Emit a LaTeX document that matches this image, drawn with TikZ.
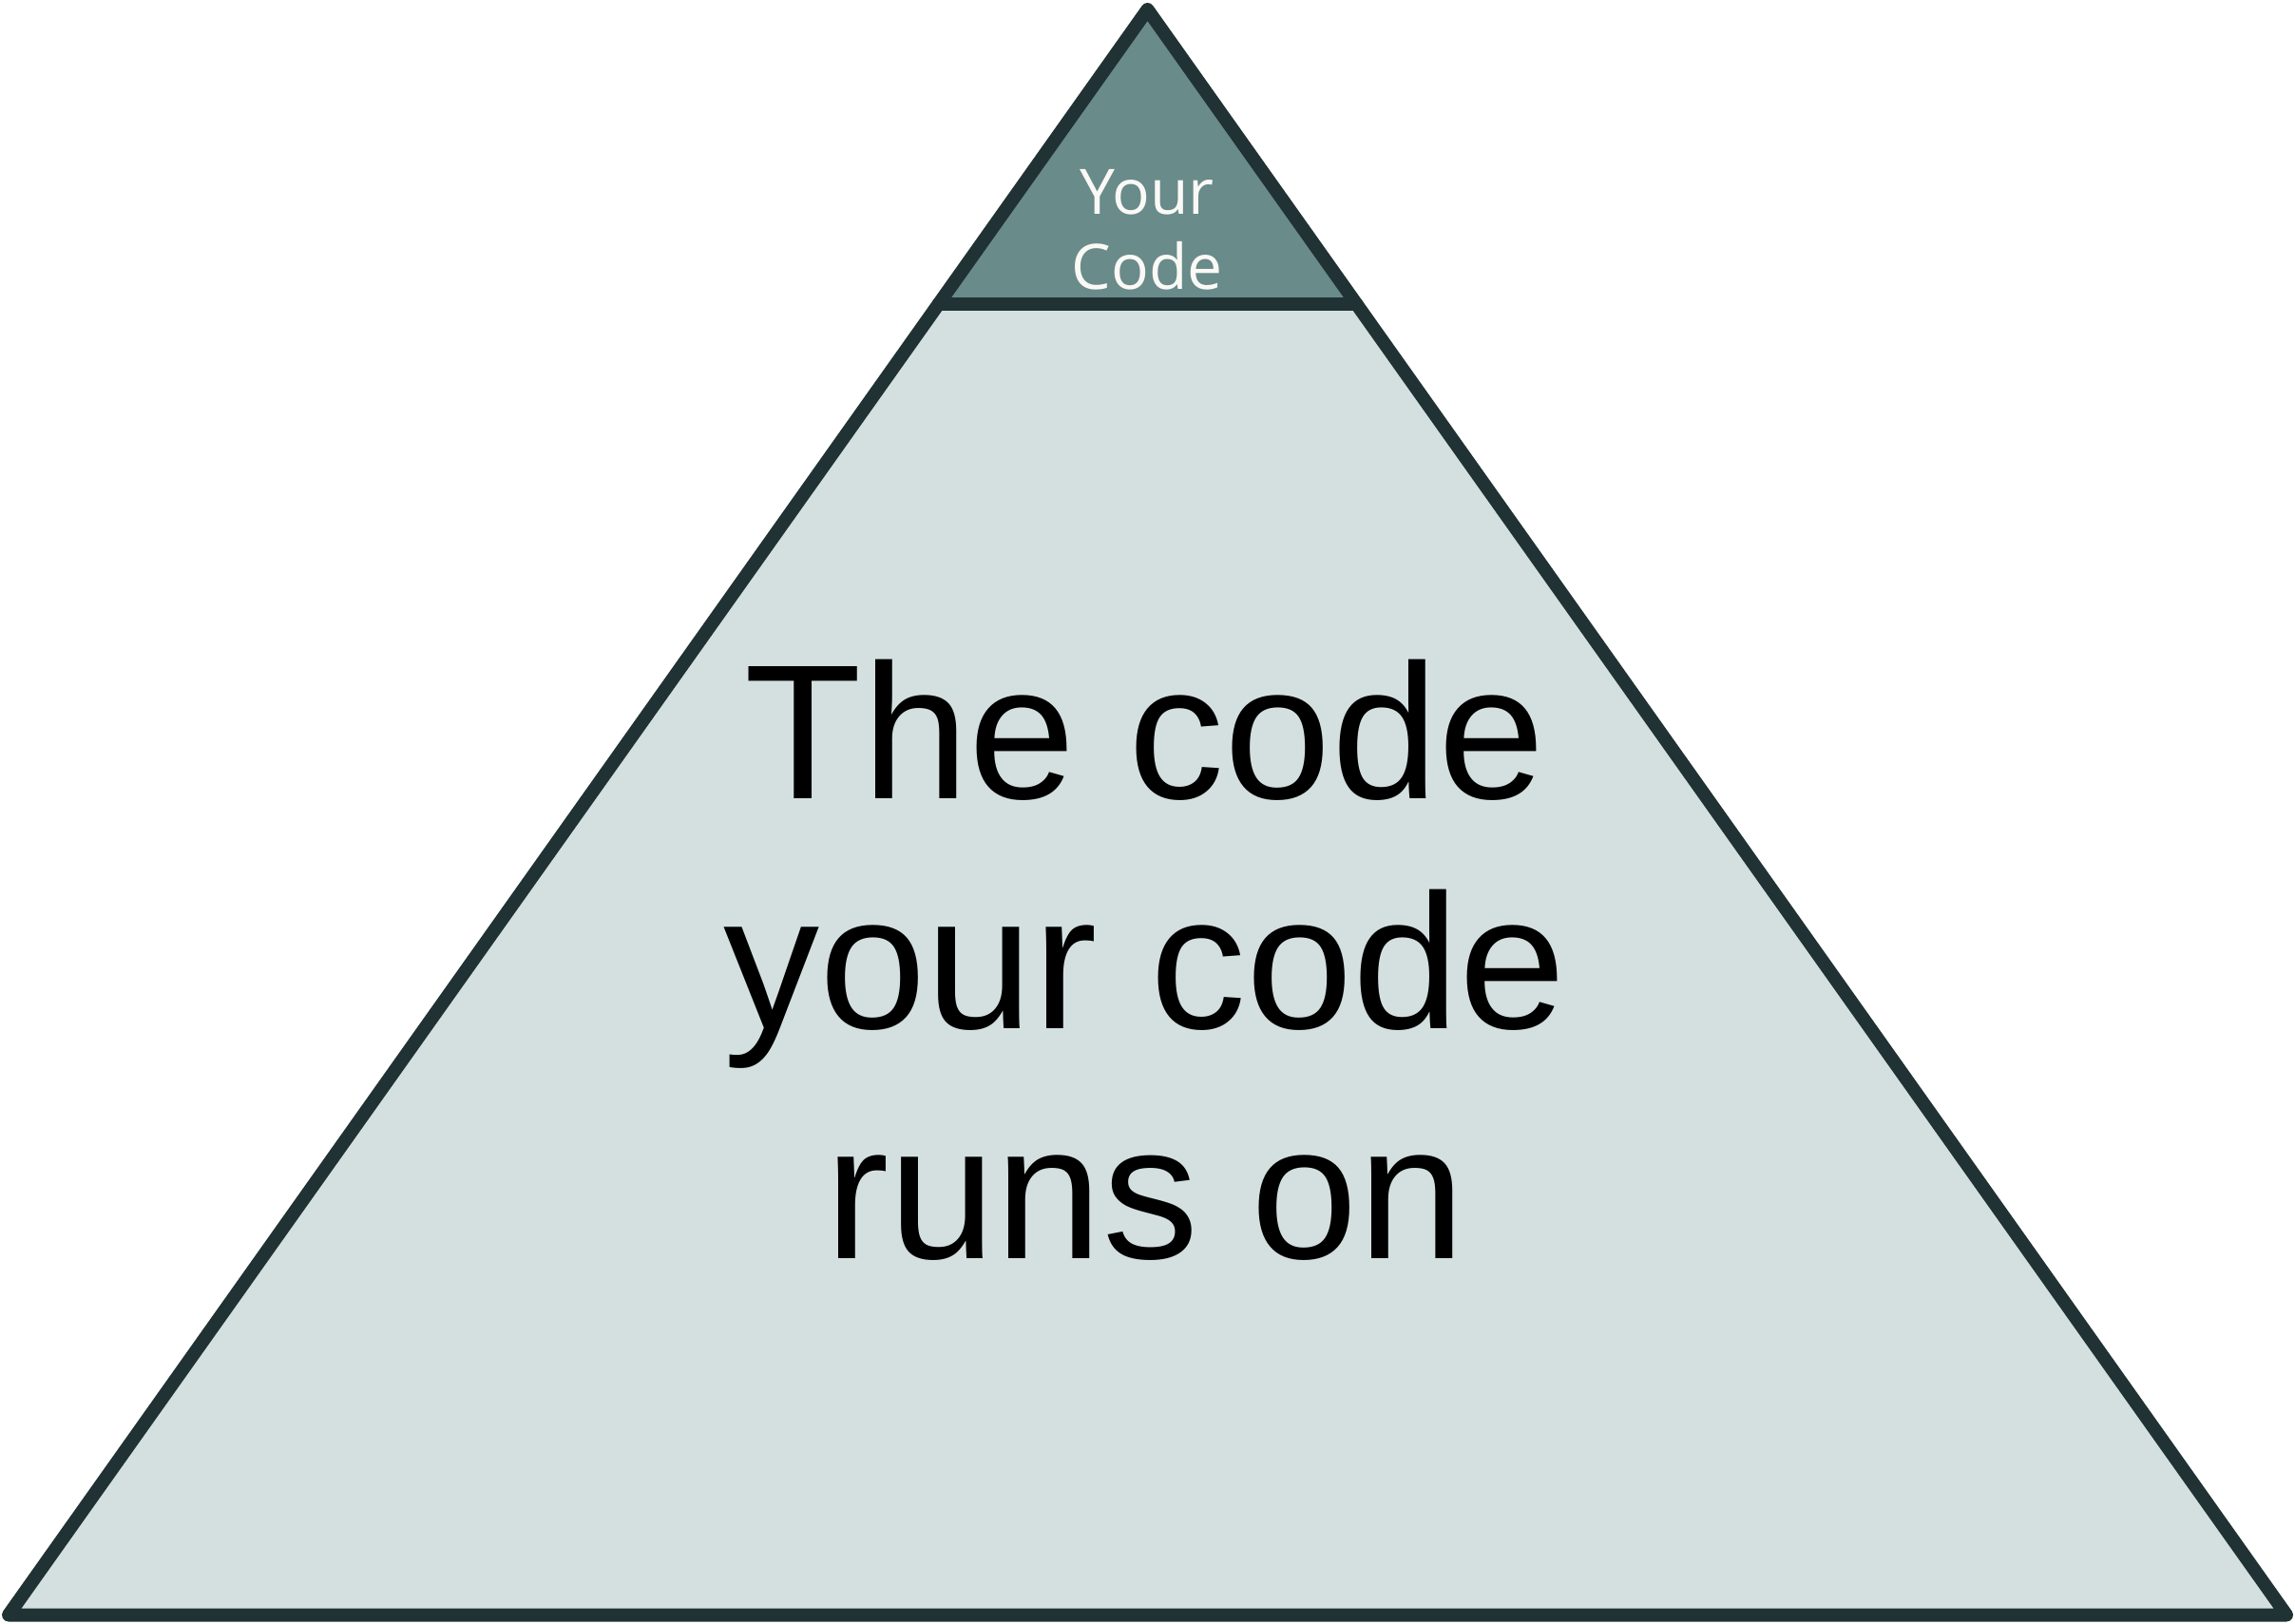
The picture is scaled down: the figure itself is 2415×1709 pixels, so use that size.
\documentclass[tikz,border=0pt]{standalone}
\usepackage{fontspec}
\setmainfont{Liberation Sans}
\newfontfamily\topfont{Open Sans}
\definecolor{edgecol}{RGB}{32,50,52}
\definecolor{topfill}{RGB}{105,139,138}
\definecolor{basefill}{RGB}{212,224,224}
\definecolor{lighttext}{RGB}{250,249,246}
\tikzset{
  layer/.style={draw=edgecol, line width=3.5pt, line join=round, line cap=round},
  bigtext/.style={inner sep=0pt, align=center, text=black, font=\fontsize{50.5}{60.5}\selectfont},
  smalltext/.style={inner sep=0pt, align=center, text=lighttext, font=\topfont\fontsize{16.5}{19.75}\selectfont}
}
\begin{document}
\begin{tikzpicture}[x=0.25pt, y=-0.25pt]
\useasboundingbox (0,0) rectangle (2415,1709);
\coordinate (apex) at (1207.5,10);
\coordinate (bl) at (9,1699.5);
\coordinate (br) at (2406,1699.5);
\coordinate (tl) at (987.6,320);
\coordinate (tr) at (1427.4,320);
\path[fill=basefill] (apex) -- (bl) -- (br) -- cycle;
\path[fill=topfill] (apex) -- (tl) -- (tr) -- cycle;
\draw[layer] (apex) -- (bl) -- (br) -- cycle;
\draw[layer] (tl) -- (tr);
\node[smalltext] (top) at (1207,242) {Your\\Code};
\node[bigtext] (base) at (1205,1010) {The code\\your code\\runs on};
\end{tikzpicture}
\end{document}
